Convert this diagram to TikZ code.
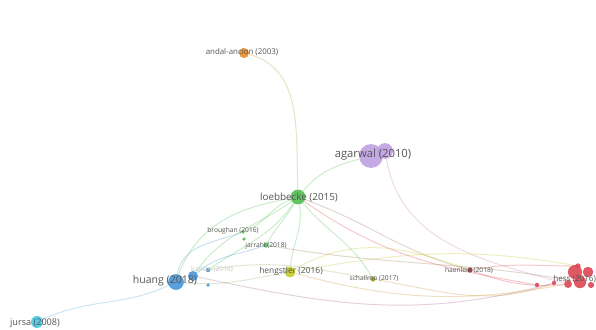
\documentclass[tikz,border=0pt]{standalone}
\usepackage{fontspec}
\newfontfamily\vosfont{Open Sans}
\usepackage{tikz}
\usetikzlibrary{backgrounds}
\definecolor{cOrange}{RGB}{232,140,40}
\definecolor{cPurple}{RGB}{190,160,226}
\definecolor{cGreen}{RGB}{80,190,80}
\definecolor{cYellow}{RGB}{196,200,40}
\definecolor{cBlue}{RGB}{70,150,215}
\definecolor{cCyan}{RGB}{70,200,225}
\definecolor{cRed}{RGB}{222,70,84}
\definecolor{cText}{RGB}{85,85,85}
\tikzset{
  pub/.style={circle,inner sep=0pt,minimum size=#1,fill opacity=0.9},   % publication
  lab/.style={font=\vosfont\fontsize{#1}{#1}\selectfont,text=cText,inner sep=0pt},
  link/.style={line width=0.55pt,draw opacity=0.3},
}

\begin{document}
\begin{tikzpicture}[x=0.02cm,y=-0.02cm]
  \useasboundingbox (0,0) rectangle (596,329);
  \clip (0,0) rectangle (596,329);
  % publications
  \node[pub=5.7pt,fill=cOrange] (andal) at (244,53) {};
  \node[pub=9pt,fill=cPurple] (agarwalb) at (385,151) {};
  \node[pub=13.6pt,fill=cPurple] (agarwal) at (371,156) {};
  \node[pub=8.5pt,fill=cGreen] (loeb) at (298,197) {};
  \node[pub=2pt,fill=cGreen] (brough) at (243,232) {};
  \node[pub=2pt,fill=cGreen] (broughb) at (244,239) {};
  \node[pub=3pt,fill=cGreen] (jarrahi) at (266,245) {};
  \node[pub=6.2pt,fill=cYellow] (heng) at (290,272) {};
  \node[pub=5.7pt,fill=cBlue] (huangb) at (193,276) {};
  \node[pub=2.5pt,fill=cBlue] (kap) at (208,270) {};
  \node[pub=2pt,fill=cBlue] (kapb) at (208,285) {};
  \node[pub=9pt,fill=cBlue] (huang) at (176,282) {};
  \node[pub=3pt,fill=cYellow!80!black] (schal) at (373,279) {};
  \node[pub=3pt,fill=cRed!70!black] (haen) at (470,270) {};
  \node[pub=2.5pt,fill=cRed] (hessf) at (537,285) {};
  \node[pub=2.5pt,fill=cRed] (hesse) at (554,283) {};
  \node[pub=3pt,fill=cRed] (hessd) at (578,266) {};
  \node[pub=4.5pt,fill=cRed] (hessc) at (568,284) {};
  \node[pub=7pt,fill=cRed] (hessb) at (580,282) {};
  \node[pub=6pt,fill=cRed] (hessa) at (588,272) {};
  \node[pub=8pt,fill=cRed] (hess) at (575,272) {};
  \node[pub=3.5pt,fill=cRed] (hessg) at (591,285) {};
  \node[pub=6.8pt,fill=cCyan] (jursa) at (37,322) {};
  % links
  \begin{scope}[on background layer]
  \draw[link,cOrange!60!cGreen] (andal) to[out=-15,in=92] (loeb);
  \draw[link,cGreen] (agarwal) to[out=195,in=50] (loeb);
  \draw[link,cPurple!60!cRed] (agarwalb) to[out=-80,in=165] (hessc);
  \draw[link,cGreen] (loeb) to[out=190,in=70] (huang);
  \draw[link,cGreen] (loeb) to[out=215,in=55] (huangb);
  \draw[link,cGreen] (loeb) to[out=235,in=35] (kap);
  \draw[link,cGreen] (loeb) to[out=200,in=20] (brough);
  \draw[link,cGreen] (loeb) to[out=240,in=60] (jarrahi);
  \draw[link,cGreen] (loeb) to[out=-80,in=85] (heng);
  \draw[link,cGreen!40!cRed] (loeb) to[out=-20,in=165] (haen);
  \draw[link,cRed] (loeb) to[out=-35,in=170] (hessf);
  \draw[link,cGreen] (loeb) to[out=-50,in=120] (schal);
  \draw[link,cBlue] (brough) to[out=200,in=80] (huang);
  \draw[link,cBlue] (jarrahi) to[out=200,in=40] (huangb);
  \draw[link,cBlue!60!cCyan] (huang) to[out=205,in=25] (jursa);
  \draw[link,cBlue!40!cYellow] (huang) to[out=-5,in=190] (heng);
  \draw[link,cBlue!40!cRed] (huangb) to[out=-12,in=195] (hesse);
  \draw[link,cBlue!40!cYellow] (kap) to[out=10,in=170] (schal);
  \draw[link,cYellow] (heng) to[out=10,in=170] (hessd);
  \draw[link,cYellow!60!cRed] (heng) to[out=-15,in=190] (hessc);
  \draw[link,cYellow] (heng) to[out=30,in=160] (haen);
  \draw[link,cYellow!60!cRed] (schal) to[out=-10,in=200] (hesse);
  \draw[link,cRed] (haen) to[out=-20,in=185] (hessc);
  \draw[link,cRed] (haen) to[out=10,in=180] (hessd);
  \draw[link,cGreen!50!cRed] (jarrahi) to[out=-10,in=170] (hessb);
  \end{scope}
  % labels
  \node[lab=4.5pt] (andal-l) at (242,52) {andal-ancion (2003)};
  \node[lab=6.4pt] (agarwal-l) at (373,155) {agarwal (2010)};
  \node[lab=5.6pt] (loeb-l) at (299,198) {loebbecke (2015)};
  \node[lab=3.8pt] (brough-l) at (233,231) {broughan (2016)};
  \node[lab=3.8pt] (jarrahi-l) at (266,246) {jarrahi (2018)};
  \node[lab=4.8pt] (heng-l) at (291,271) {hengstler (2016)};
  \node[lab=3.8pt,text=cText!35] (kap-l) at (212,270) {kaplan (2016)};
  \node[lab=6pt] (huang-l) at (165,281) {huang (2018)};
  \node[lab=3.8pt] (schal-l) at (374,278) {schallmo (2017)};
  \node[lab=3.8pt] (haen-l) at (469,270) {haenlein (2018)};
  \node[lab=4.6pt,anchor=west] (hess-l) at (553,279) {hess (2016)};
  \node[lab=5.2pt] (jursa-l) at (35,323) {jursa (2008)};
\end{tikzpicture}
\end{document}
